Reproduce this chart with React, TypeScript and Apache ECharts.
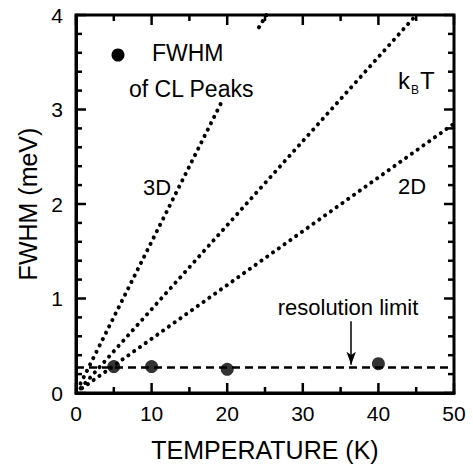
import React, { useEffect, useRef } from "react";
import * as echarts from "echarts";

const FONT = "Liberation Sans, Arial, Helvetica, sans-serif";

// Measured FWHM of CL peaks
const tempK = [5, 10, 20, 40];
const fwhmMeV = [0.28, 0.28, 0.25, 0.31];

// Resolution limit (dashed)
const resolutionX = [0, 50];
const resolutionY = [0.27, 0.27];

// Dotted reference lines (endpoints)
const line3DLower = [[0.6, 0.1], [19.2, 3.07]];
const line3DUpper = [[24.2, 3.87], [25.2, 4.0]];
const lineKBT = [[0.6, 0.05], [45.0, 4.0]];
const line2D = [[0.8, 0.05], [50.0, 2.85]];

// Arrow for resolution limit
const arrowX = 36.4;
const arrowFrom = 0.76;
const arrowTo = 0.3;

// Axes and tick values
const xMin = 0, xMax = 50, xStep = 10;
const yMin = 0, yMax = 4, yStep = 1;
const xMajorTicks = [0, 10, 20, 30, 40, 50];
const xMinorTicks = [5, 15, 25, 35, 45];
const yMajorTicks = [0, 1, 2, 3, 4];
const yMinorTicks = [0.2, 0.4, 0.6, 0.8, 1.2, 1.4, 1.6, 1.8, 2.2, 2.4, 2.6, 2.8, 3.2, 3.4, 3.6, 3.8];

const MAJOR_LEN = 10;
const MINOR_LEN = 6;
const TICK_W = 2.5;

export default function App() {
  const ref = useRef<HTMLDivElement>(null);
  useEffect(() => {
    if (!ref.current) return;
    const chart = echarts.init(ref.current, null, { renderer: "svg" });
    const dotted = { color: "#000", width: 4, type: [0.1, 7], cap: "round" };

    chart.setOption({
      animation: false,
      backgroundColor: "#fff",
      grid: { left: 76, right: 19, top: 15, bottom: 75 },
      xAxis: {
        type: "value", min: xMin, max: xMax, interval: xStep,
        axisLine: { show: true, onZero: false, lineStyle: { color: "#000", width: 3 } },
        axisTick: { show: false }, splitLine: { show: false },
        axisLabel: { show: true, fontSize: 21, color: "#000", margin: 10, fontFamily: FONT },
        name: "TEMPERATURE (K)", nameLocation: "middle", nameGap: 44,
        nameTextStyle: { fontSize: 25, color: "#000", fontFamily: FONT },
      },
      yAxis: {
        type: "value", min: yMin, max: yMax, interval: yStep,
        axisLine: { show: true, onZero: false, lineStyle: { color: "#000", width: 3 } },
        axisTick: { show: false }, splitLine: { show: false },
        axisLabel: { show: true, fontSize: 21, color: "#000", margin: 13, fontFamily: FONT },
        name: "FWHM (meV)", nameLocation: "middle", nameGap: 34,
        nameTextStyle: { fontSize: 25, color: "#000", fontFamily: FONT },
      },
      series: [
        {
          type: "line", data: resolutionX.map((x, i) => [x, resolutionY[i]]),
          showSymbol: false, symbol: "none",
          lineStyle: { color: "#000", width: 2.5, type: [8, 5] },
          markLine: {
            silent: true, symbol: ["none", "arrow"], symbolSize: [7, 13],
            label: { show: false },
            lineStyle: { color: "#000", width: 1.5, type: "solid" },
            data: [[{ coord: [arrowX, arrowFrom] }, { coord: [arrowX, arrowTo] }]],
          },
        },
        { type: "line", data: line3DLower, symbol: "none", lineStyle: dotted },
        { type: "line", data: line3DUpper, symbol: "none", lineStyle: dotted },
        { type: "line", data: lineKBT, symbol: "none", lineStyle: dotted },
        { type: "line", data: line2D, symbol: "none", lineStyle: dotted },
        {
          type: "scatter", data: tempK.map((t, i) => [t, fwhmMeV[i]]),
          symbol: "circle", symbolSize: 13, itemStyle: { color: "#000" }, z: 5,
        },
      ],
    });

    const px = (x: number, y: number) => chart.convertToPixel({ gridIndex: 0 }, [x, y]) as number[];
    const st = { stroke: "#000", lineWidth: TICK_W };
    const ticks: any[] = [];
    const addX = (vals: number[], len: number) => vals.forEach((v) => {
      const b = px(v, yMin), t = px(v, yMax);
      ticks.push({ type: "line", z: 10, shape: { x1: b[0], y1: b[1], x2: b[0], y2: b[1] - len }, style: st });
      ticks.push({ type: "line", z: 10, shape: { x1: t[0], y1: t[1], x2: t[0], y2: t[1] + len }, style: st });
    });
    const addY = (vals: number[], len: number) => vals.forEach((v) => {
      const l = px(xMin, v), r = px(xMax, v);
      ticks.push({ type: "line", z: 10, shape: { x1: l[0], y1: l[1], x2: l[0] + len, y2: l[1] }, style: st });
      ticks.push({ type: "line", z: 10, shape: { x1: r[0], y1: r[1], x2: r[0] - len, y2: r[1] }, style: st });
    });
    addX(xMajorTicks, MAJOR_LEN);
    addX(xMinorTicks, MINOR_LEN);
    addY(yMajorTicks, MAJOR_LEN);
    addY(yMinorTicks, MINOR_LEN);
    const tl = px(xMin, yMax), br = px(xMax, yMin);
    const frame = {
      type: "rect", z: 11,
      shape: { x: tl[0], y: tl[1], width: br[0] - tl[0], height: br[1] - tl[1] },
      style: { fill: "none", stroke: "#000", lineWidth: 3 },
    };

    chart.setOption({
      graphic: [
        frame,
        ...ticks,
        { type: "circle", shape: { cx: 118, cy: 55, r: 6.5 }, style: { fill: "#000" } },
        { type: "text", x: 152, y: 53, style: { text: "FWHM", font: `23px ${FONT}`, fill: "#000", verticalAlign: "middle" } },
        { type: "text", x: 129, y: 89, style: { text: "of CL Peaks", font: `23px ${FONT}`, fill: "#000", verticalAlign: "middle" } },
        { type: "text", x: 157, y: 187, style: { text: "3D", font: `22px ${FONT}`, fill: "#000", align: "center", verticalAlign: "middle" } },
        { type: "text", x: 412, y: 186, style: { text: "2D", font: `22px ${FONT}`, fill: "#000", align: "center", verticalAlign: "middle" } },
        { type: "text", x: 398, y: 80, style: { text: "k", font: `24px ${FONT}`, fill: "#000", verticalAlign: "middle" } },
        { type: "text", x: 411, y: 90, style: { text: "B", font: `12px ${FONT}`, fill: "#000", verticalAlign: "middle" } },
        { type: "text", x: 420, y: 80, style: { text: "T", font: `24px ${FONT}`, fill: "#000", verticalAlign: "middle" } },
        { type: "text", x: 348, y: 307, style: { text: "resolution limit", font: `22px ${FONT}`, fill: "#000", align: "center", verticalAlign: "middle" } },
      ],
    });
    return () => chart.dispose();
  }, []);
  return <div ref={ref} style={{ position: "fixed", left: 0, top: 0, width: 473, height: 468 }} />;
}
